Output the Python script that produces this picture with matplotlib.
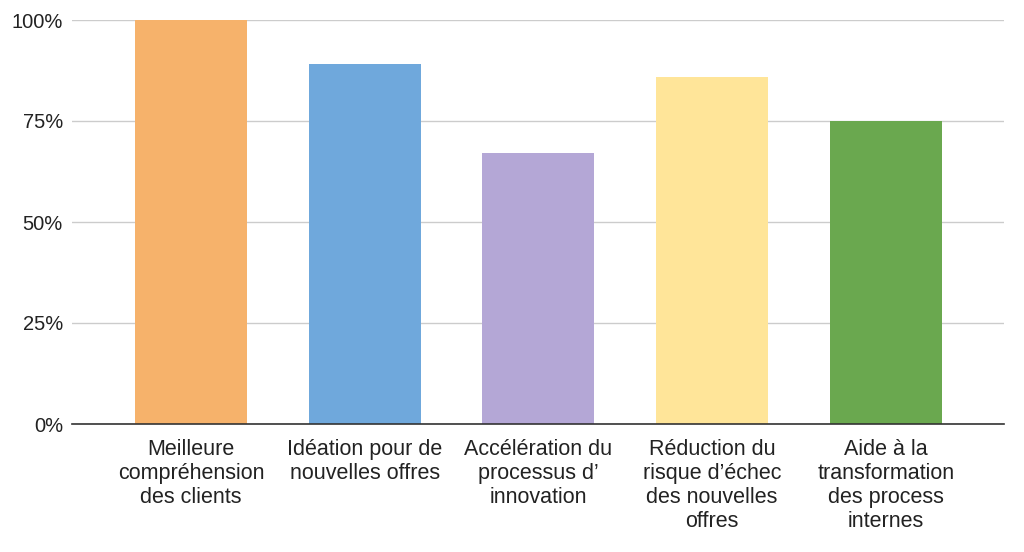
import matplotlib.pyplot as plt
from matplotlib.ticker import PercentFormatter

plt.rcParams['font.family'] = ['Liberation Sans', 'DejaVu Sans']

categories = ["Meilleure\ncompréhension\ndes clients",
              "Idéation pour de\nnouvelles offres",
              "Accélération du\nprocessus d\u2019\ninnovation",
              "Réduction du\nrisque d\u2019échec\ndes nouvelles\noffres",
              "Aide à la\ntransformation\ndes process\ninternes"]
values = [100, 89, 67, 86, 75]
colors = ["#F6B26B", "#6FA8DC", "#B4A7D6", "#FFE599", "#6AA84F"]
yticks = [0, 25, 50, 75, 100]

fig = plt.figure(figsize=(10.24, 5.52), dpi=100)
ax = fig.add_axes([72 / 1024, 1 - 424 / 552, 932 / 1024, 404 / 552])

x = list(range(len(categories)))
ax.bar(x, values, width=0.645, color=colors, zorder=2)

ax.set_xlim(-0.685, 4.68)
ax.set_ylim(0, 100)
ax.set_yticks(yticks)
ax.yaxis.set_major_formatter(PercentFormatter(decimals=0))
ax.set_xticks(x)
ax.set_xticklabels(categories, linespacing=1.2)
ax.tick_params(axis='both', length=0, colors='#222222')
ax.tick_params(axis='x', pad=10.5, labelsize=15.5)
ax.tick_params(axis='y', pad=6.5, labelsize=14.5)
ax.grid(axis='y', color='#cccccc', linewidth=1, zorder=0)

for side in ['top', 'right', 'left']:
    ax.spines[side].set_visible(False)
ax.spines['bottom'].set_color('#333333')
ax.spines['bottom'].set_linewidth(1.2)
ax.spines['bottom'].set_zorder(3)

fig.savefig('out.png', dpi=100)
